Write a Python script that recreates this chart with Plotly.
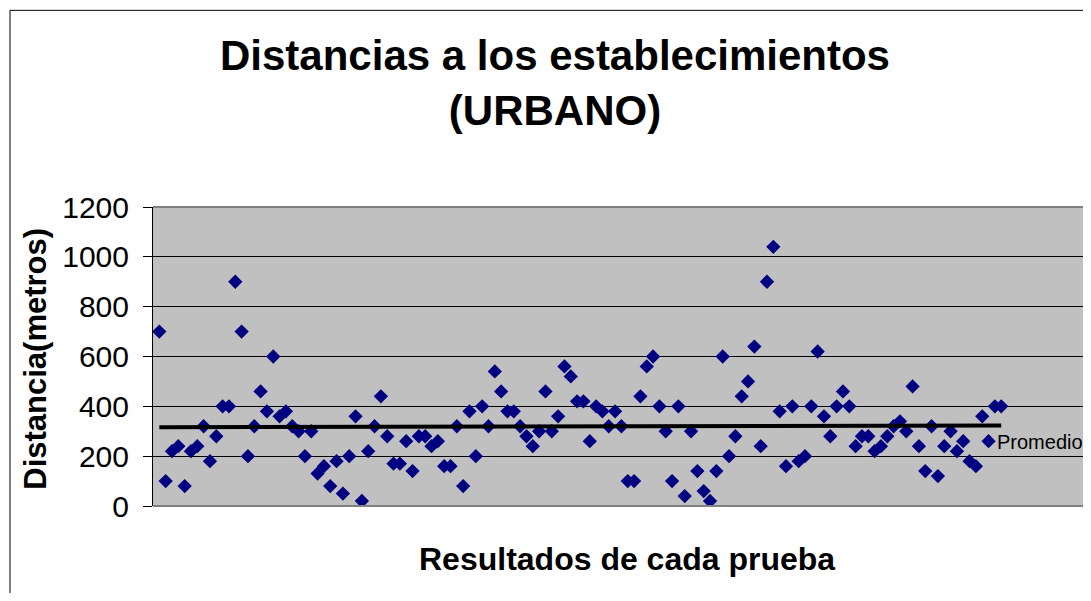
import plotly.graph_objects as go

distancias = [
    700, 100, 220, 240, 80, 220, 240, 320, 180, 280,
    400, 400, 900, 700, 200, 320, 460, 380, 600, 360,
    380, 320, 300, 200, 300, 130, 160, 80, 180, 50,
    200, 360, 20, 220, 320, 440, 280, 170, 170, 260,
    140, 280, 280, 240, 260, 160, 160, 320, 80, 380,
    200, 400, 320, 540, 460, 380, 380, 320, 280, 240,
    300, 460, 300, 360, 560, 520, 420, 420, 260, 400,
    380, 320, 380, 320, 100, 100, 440, 560, 600, 400,
    300, 100, 400, 40, 300, 140, 60, 20, 140, 600,
    200, 280, 440, 500, 640, 240, 900, 1040, 380, 160,
    400, 180, 200, 400, 620, 360, 280, 400, 460, 400,
    240, 280, 280, 220, 240, 280, 320, 340, 300, 480,
    240, 140, 320, 120, 240, 300, 220, 260, 180, 160,
    360, 260, 400, 400,
]
pruebas = list(range(1, len(distancias) + 1))

# Línea de promedio (valores al inicio y al final)
promedio_x = [pruebas[0], pruebas[-1]]
promedio_y = [316, 323]
promedio_label = "Promedio"

y_ticks = [0, 200, 400, 600, 800, 1000, 1200]

FONT = "Liberation Sans, Arial, sans-serif"
OFF = 8  # page body margin
SW, SH = 1091, 601
W, H = SW - OFF, SH - 2 * OFF
# plot area in screen pixels
PL, PT, PB = 153, 207, 506.5
ML, MR, MT = PL - OFF, 0, PT - OFF
MB = H - (PB - OFF)
PW = W - ML - MR
PH = H - MT - MB


def sx(px):
    return (px - PL) / PW


def sy(py):
    return (PB - py) / PH


fig = go.Figure()

fig.add_trace(go.Scatter(
    x=pruebas, y=distancias, mode="markers",
    marker=dict(symbol="diamond", size=11, color="#000080",
                line=dict(width=0)),
    showlegend=False, hoverinfo="y",
))

fig.add_trace(go.Scatter(
    x=promedio_x, y=promedio_y, mode="lines",
    line=dict(color="black", width=4),
    showlegend=False, hoverinfo="skip",
))

fig.update_layout(
    width=W, height=H,
    margin=dict(l=ML, r=MR, t=MT, b=MB, pad=0),
    paper_bgcolor="white",
    plot_bgcolor="#C0C0C0",
    font=dict(family=FONT, color="black"),
    showlegend=False,
    title=dict(
        text="<b>Distancias a los establecimientos<br>(URBANO)</b>",
        font=dict(family=FONT, size=42, color="black"),
        xref="container", x=(555 - OFF) / W, xanchor="center",
        yref="container", y=1 - 62 / H, yanchor="middle",
    ),
)

fig.update_xaxes(
    range=[0, PW / 6.33],
    showticklabels=False, ticks="", showgrid=False, zeroline=False,
    showline=False,
)

fig.update_yaxes(
    range=[0, 1200],
    tickvals=y_ticks,
    ticks="outside", ticklen=9, tickcolor="black", tickwidth=1,
    tickfont=dict(family=FONT, size=30, color="black"),
    ticklabelstandoff=8,
    showgrid=True, gridcolor="black", gridwidth=1,
    zeroline=False,
    showline=True, linecolor="black", linewidth=1,
)

# borde del área de trazado (gris arriba y abajo)
fig.add_shape(type="line", xref="paper", yref="paper",
              x0=0, x1=1, y0=1, y1=1,
              line=dict(color="#808080", width=2))
fig.add_shape(type="line", xref="paper", yref="paper",
              x0=0, x1=1, y0=0, y1=0,
              line=dict(color="#808080", width=2))

# borde del gráfico
fig.add_shape(type="rect", xref="paper", yref="paper",
              x0=sx(10), x1=sx(SW + 20),
              y0=sy(SH + 20), y1=sy(10),
              line=dict(color="black", width=1), layer="below")

fig.add_annotation(
    text="<b>Distancia(metros)</b>", textangle=-90,
    xref="paper", yref="paper",
    x=sx(36), y=sy(359),
    xanchor="center", yanchor="middle", showarrow=False,
    font=dict(family=FONT, size=31, color="black"),
)

fig.add_annotation(
    text="<b>Resultados de cada prueba</b>",
    xref="paper", yref="paper",
    x=sx(627), y=sy(560),
    xanchor="center", yanchor="middle", showarrow=False,
    font=dict(family=FONT, size=32, color="black"),
)

fig.add_annotation(
    text=promedio_label,
    xref="paper", yref="y",
    x=sx(995), y=258,
    xanchor="left", yanchor="middle", showarrow=False,
    font=dict(family=FONT, size=20, color="black"),
)

fig.write_html("out.html")
